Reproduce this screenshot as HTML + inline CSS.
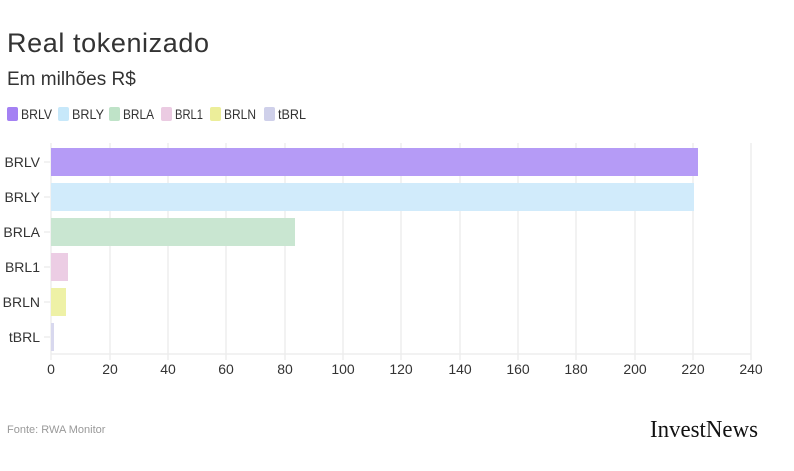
<!DOCTYPE html>
<html><head><meta charset="utf-8"><style>
body{margin:0;background:#fff;width:794px;height:466px;overflow:hidden;font-family:"Liberation Sans","DejaVu Sans",sans-serif;}
</style></head><body>
<svg width="794" height="466" xmlns="http://www.w3.org/2000/svg" font-family="Liberation Sans, DejaVu Sans, sans-serif">
<text x="7" y="52" font-size="27" fill="#333" textLength="202">Real tokenizado</text>
<text x="7" y="85" font-size="19" fill="#333">Em milhões R$</text>
<g font-size="14" fill="#333">
<rect x="7" y="107" width="11" height="14" rx="2" fill="#a481f3"/><text x="21" y="119" textLength="31" lengthAdjust="spacingAndGlyphs">BRLV</text>
<rect x="58" y="107" width="11" height="14" rx="2" fill="#c7e8fa"/><text x="72" y="119" textLength="32" lengthAdjust="spacingAndGlyphs">BRLY</text>
<rect x="109" y="107" width="11" height="14" rx="2" fill="#bfe3c8"/><text x="123" y="119" textLength="31" lengthAdjust="spacingAndGlyphs">BRLA</text>
<rect x="161" y="107" width="11" height="14" rx="2" fill="#ebcbe2"/><text x="175" y="119" textLength="28" lengthAdjust="spacingAndGlyphs">BRL1</text>
<rect x="210" y="107" width="11" height="14" rx="2" fill="#ecee9a"/><text x="224" y="119" textLength="32" lengthAdjust="spacingAndGlyphs">BRLN</text>
<rect x="264" y="107" width="11" height="14" rx="2" fill="#cfd0ea"/><text x="278" y="119" textLength="28" lengthAdjust="spacingAndGlyphs">tBRL</text>
</g>
<g stroke="#ebebeb" stroke-width="1.3">
<line x1="51" y1="143" x2="51" y2="360"/><line x1="110" y1="143" x2="110" y2="360"/><line x1="168" y1="143" x2="168" y2="360"/><line x1="226" y1="143" x2="226" y2="360"/><line x1="285" y1="143" x2="285" y2="360"/><line x1="343" y1="143" x2="343" y2="360"/><line x1="401" y1="143" x2="401" y2="360"/><line x1="460" y1="143" x2="460" y2="360"/><line x1="518" y1="143" x2="518" y2="360"/><line x1="576" y1="143" x2="576" y2="360"/><line x1="635" y1="143" x2="635" y2="360"/><line x1="693" y1="143" x2="693" y2="360"/><line x1="751" y1="143" x2="751" y2="360"/>
<line x1="51" y1="354" x2="751" y2="354"/>
<line x1="44" y1="162" x2="50" y2="162"/><line x1="44" y1="197" x2="50" y2="197"/><line x1="44" y1="232" x2="50" y2="232"/><line x1="44" y1="267" x2="50" y2="267"/><line x1="44" y1="302" x2="50" y2="302"/><line x1="44" y1="337" x2="50" y2="337"/>
</g>
<rect x="51" y="148" width="647" height="28" fill="#b59bf6"/>
<rect x="51" y="183" width="643" height="28" fill="#d1ebfb"/>
<rect x="51" y="218" width="244" height="28" fill="#c9e6d1"/>
<rect x="51" y="253" width="17" height="28" fill="#eccde4"/>
<rect x="51" y="288" width="15" height="28" fill="#eef1a6"/>
<rect x="51" y="323" width="3" height="28" fill="#d8d8ee"/>
<g font-size="14" fill="#333" text-anchor="end">
<text x="40" y="167">BRLV</text><text x="40" y="202">BRLY</text><text x="40" y="237">BRLA</text><text x="40" y="272">BRL1</text><text x="40" y="307">BRLN</text><text x="40" y="342">tBRL</text>
</g>
<g font-size="14" fill="#333" text-anchor="middle">
<text x="51" y="374">0</text><text x="110" y="374">20</text><text x="168" y="374">40</text><text x="226" y="374">60</text><text x="285" y="374">80</text><text x="343" y="374">100</text><text x="401" y="374">120</text><text x="460" y="374">140</text><text x="518" y="374">160</text><text x="576" y="374">180</text><text x="635" y="374">200</text><text x="693" y="374">220</text><text x="751" y="374">240</text>
</g>
<text x="7" y="433" font-size="11" fill="#999">Fonte: RWA Monitor</text>
<text x="650" y="437" font-size="24" fill="#111" font-family="Liberation Serif, serif" textLength="108" lengthAdjust="spacingAndGlyphs">InvestNews</text>
</svg>
</body></html>
